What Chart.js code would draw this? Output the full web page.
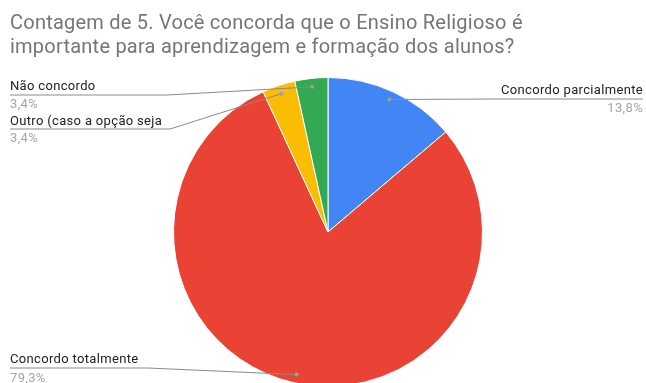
<!DOCTYPE html>
<html>
<head>
<meta charset="utf-8">
<script src="https://cdn.jsdelivr.net/npm/chart.js@4/dist/chart.umd.min.js"></script>
<style>
  html, body { margin: 0; padding: 0; background: #fff; overflow: hidden; }
  #pie { display: block; }
</style>
</head>
<body>
<canvas id="pie" width="646" height="400"></canvas>
<script>
const titleLines = [
    'Contagem de 5. Você concorda que o Ensino Religioso é',
    'importante para aprendizagem e formação dos alunos?'
];
const answers = ['Concordo parcialmente', 'Concordo totalmente', 'Outro (caso a opção seja', 'Não concordo'];
const counts = [4, 23, 1, 1];
const sliceColors = ['#4285f4', '#ea4335', '#fbbc04', '#34a853'];

// where each callout label sits (text x, name baseline, underline y, elbow x)
const callouts = [
    { side: 'right', x: 643, nameY: 94, lineY: 99, valueY: 112, elbow: 500 },
    { side: 'left', x: 10, nameY: 363, lineY: 368, valueY: 382, elbow: 148 },
    { side: 'left', x: 10, nameY: 125, lineY: 129, valueY: 142, elbow: 170 },
    { side: 'left', x: 10, nameY: 90, lineY: 95, valueY: 108, elbow: 167 }
];

function pct(v) {
    const total = counts.reduce((a, b) => a + b, 0);
    return (v / total * 100).toFixed(1).replace('.', ',') + '%';
}

const labelsPlugin = {
    id: 'calloutLabels',
    afterDraw(chart) {
        const ctx = chart.ctx;
        ctx.save();

        // title
        ctx.fillStyle = '#757575';
        ctx.font = '20px Roboto';
        ctx.letterSpacing = '0.23px';
        ctx.textAlign = 'left';
        ctx.textBaseline = 'alphabetic';
        ctx.fillText(titleLines[0], 10, 29);
        ctx.fillText(titleLines[1], 10, 53);

        const meta = chart.getDatasetMeta(0);
        meta.data.forEach((arc, i) => {
            const c = callouts[i];
            const p = arc.getProps(['x', 'y', 'startAngle', 'endAngle', 'outerRadius'], true);
            const mid = (p.startAngle + p.endAngle) / 2;
            const ax = p.x + Math.cos(mid) * p.outerRadius * 0.945;
            const ay = p.y + Math.sin(mid) * p.outerRadius * 0.945;

            ctx.strokeStyle = '#8a8a8a';
            ctx.lineWidth = 1;
            ctx.beginPath();
            ctx.moveTo(c.x, c.lineY);
            ctx.lineTo(c.elbow, c.lineY);
            ctx.lineTo(ax, ay);
            ctx.stroke();

            ctx.fillStyle = '#9e9e9e';
            ctx.beginPath();
            ctx.arc(ax, ay, 2, 0, Math.PI * 2);
            ctx.fill();

            ctx.textAlign = c.side === 'right' ? 'right' : 'left';
            ctx.font = '13px Roboto';
            ctx.letterSpacing = '0.33px';
            ctx.fillStyle = '#222222';
            ctx.fillText(answers[i], c.x, c.nameY);
            ctx.fillStyle = '#a6a6a6';
            ctx.fillText(pct(counts[i]), c.x, c.valueY);
        });
        ctx.restore();
    }
};

new Chart(document.getElementById('pie'), {
    type: 'pie',
    data: {
        labels: answers,
        datasets: [{
            data: counts,
            backgroundColor: sliceColors,
            borderColor: '#ffffff',
            borderWidth: 1
        }]
    },
    options: {
        responsive: false,
        animation: false,
        layout: { padding: { left: 173, right: 163, top: 77, bottom: 13 } },
        plugins: {
            legend: { display: false },
            tooltip: { enabled: false }
        }
    },
    plugins: [labelsPlugin]
});
</script>
</body>
</html>
